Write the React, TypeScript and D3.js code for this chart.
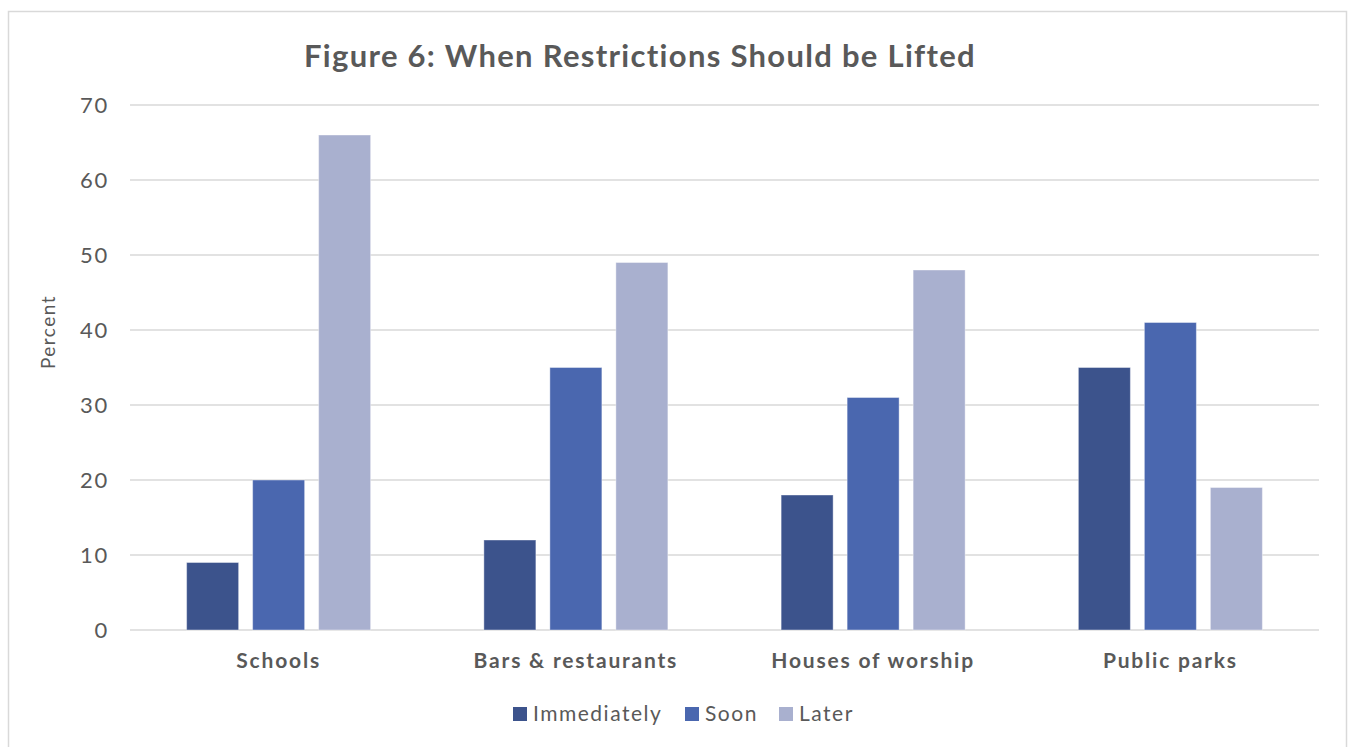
import React from "react";
import * as d3 from "d3";

// Share of respondents saying each venue type should reopen at a given time
const categories = ["Schools", "Bars & restaurants", "Houses of worship", "Public parks"];
const seriesNames = ["Immediately", "Soon", "Later"];
const immediately = [9, 12, 18, 35];
const soon = [20, 35, 31, 41];
const later = [66, 49, 48, 19];
const yTicks = [0, 10, 20, 30, 40, 50, 60, 70];
const colors = ["#3C538C", "#4A67AF", "#A9B0CF"];

const W = 1348;
const H = 747;
const plot = { left: 130, right: 1319, top: 105, bottom: 630 };
const FONT = "Lato, 'Open Sans', sans-serif";
const TEXT = "#595959";

export default function App() {
  const seriesValues = [immediately, soon, later];

  const x0 = d3.scaleBand<string>().domain(categories).range([plot.left, plot.right]);
  const groupWidth = 184;
  const x1 = d3
    .scaleBand<string>()
    .domain(seriesNames)
    .range([0, groupWidth])
    .paddingInner(14 / 66)
    .paddingOuter(0);
  const y = d3.scaleLinear().domain([0, 70]).range([plot.bottom, plot.top]);

  const groupOffset = (x0.bandwidth() - groupWidth) / 2;

  const legendItems = [
    { name: "Immediately", x: 513 },
    { name: "Soon", x: 685 },
    { name: "Later", x: 779 },
  ];

  return (
    <svg
      width={W}
      height={H}
      style={{ position: "absolute", left: 0, top: 0, background: "#fff" }}
      fontFamily={FONT}
    >
      <rect x={8.5} y={11.5} width={1338} height={760} fill="#fff" stroke="#d9d9d9" strokeWidth={1.5} />

      <text
        x={640}
        y={67}
        textAnchor="middle"
        fontSize={31}
        fontWeight={700}
        letterSpacing={1.3}
        fill={TEXT}
      >
        Figure 6: When Restrictions Should be Lifted
      </text>

      {/* gridlines and y tick labels */}
      {yTicks.map((t) => (
        <g key={t}>
          <line
            x1={plot.left}
            x2={plot.right}
            y1={y(t)}
            y2={y(t)}
            stroke="#d9d9d9"
            strokeWidth={1.5}
          />
          <text
            x={109}
            y={y(t)}
            dy="0.36em"
            textAnchor="end"
            fontSize={22}
            letterSpacing={1.8}
            fill={TEXT}
          >
            {t}
          </text>
        </g>
      ))}

      <text
        transform={`translate(55, ${332}) rotate(-90)`}
        textAnchor="middle"
        fontSize={19}
        letterSpacing={1.5}
        fill={TEXT}
      >
        Percent
      </text>

      {/* bars */}
      {categories.map((c, ci) => (
        <g key={c} transform={`translate(${(x0(c) ?? 0) + groupOffset},0)`}>
          {seriesNames.map((s, si) => {
            const v = seriesValues[si][ci];
            return (
              <rect
                key={s}
                x={x1(s)}
                y={y(v)}
                width={x1.bandwidth()}
                height={y(0) - y(v)}
                fill={colors[si]}
                stroke="#ffffff"
                strokeOpacity={0.4}
                strokeWidth={1}
              />
            );
          })}
        </g>
      ))}

      {/* category labels */}
      {categories.map((c) => (
        <text
          key={c}
          x={(x0(c) ?? 0) + x0.bandwidth() / 2}
          y={668}
          textAnchor="middle"
          fontSize={21}
          fontWeight={700}
          letterSpacing={1.8}
          fill={TEXT}
        >
          {c}
        </text>
      ))}

      {/* legend */}
      {legendItems.map((l, i) => (
        <g key={l.name}>
          <rect x={l.x} y={707} width={14} height={14} fill={colors[i]} />
          <text x={l.x + 20} y={721} fontSize={21} letterSpacing={1.5} fill={TEXT}>
            {l.name}
          </text>
        </g>
      ))}
    </svg>
  );
}
